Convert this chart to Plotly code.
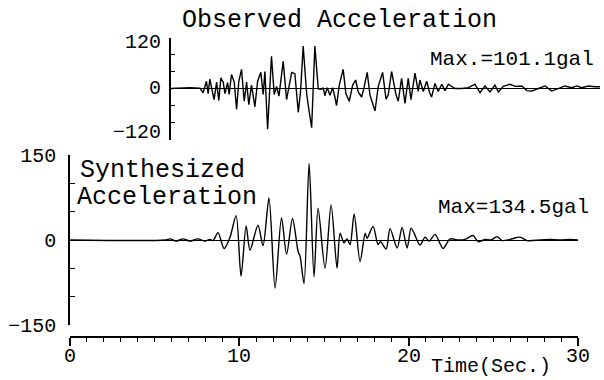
import plotly.graph_objects as go

# Observed acceleration (time s, gal)
obs_t = [5.97, 6.50, 7.09, 7.68, 7.87, 8.07, 8.17, 8.27, 8.41, 8.52, 8.67, 8.80, 8.92, 9.06, 9.16,
         9.32, 9.41, 9.55, 9.71, 9.85, 9.98, 10.14, 10.30, 10.44, 10.57, 10.73, 10.93, 11.09, 11.28,
         11.42, 11.52, 11.68, 11.91, 12.07, 12.21, 12.35, 12.60, 12.80, 13.10, 13.29, 13.49, 13.63,
         13.78, 13.98, 14.08, 14.28, 14.47, 14.67, 14.87, 14.96, 15.06, 15.20, 15.36, 15.52, 15.65,
         15.75, 15.91, 16.14, 16.30, 16.50, 16.70, 16.88, 17.03, 17.23, 17.37, 17.56, 17.72, 18.02,
         18.21, 18.47, 18.67, 18.80, 19.00, 19.26, 19.39, 19.59, 19.79, 19.98, 20.14, 20.38, 20.57,
         20.67, 20.87, 21.07, 21.26, 21.36, 21.56, 21.75, 21.96, 22.15, 22.35, 22.74, 23.14, 23.53,
         23.92, 24.22, 24.51, 24.81, 25.10, 25.30, 25.59, 25.99, 26.29, 26.68, 26.98, 27.27, 27.66,
         28.06, 28.45, 28.84, 29.24, 29.63, 29.93, 30.22, 30.61, 31.01, 31.30]
obs_a = [0, 1, 2, 1, -10, 17, -12, 22, -8, -26, 15, -28, 25, 15, -12,
         14, -14, 33, 15, -49, 17, 45, -30, 15, -38, 8, -43, 17, 38,
         -14, 40, -96, 76, -14, 5, -18, 64, -26, 38, 35, -56, -5,
         100, -10, -40, -92, 100, -1, -2, 2, -17, 2, -16, 2, -20,
         -40, 8, 45, -12, -30, 8, 20, -8, -20, 2, 38, -15, -53,
         5, 38, -25, -15, 40, -15, -30, 24, -35, 24, -26, 36, -7,
         20, -7, 17, -12, -20, 12, -7, 10, -5, 10, 0, 0, 2,
         10, -10, 6, -8, 8, -8, 5, 10, 5, 6, -5, -6, 0,
         6, -6, 0, 6, 2, 6, 2, 6, 4, 4]

# Synthesized acceleration (time s, gal)
syn_t = [0.0, 5.61, 5.91, 6.26, 6.68, 7.09, 7.56, 7.97, 8.27, 8.45, 8.74, 9.10, 9.45, 9.81,
         10.10, 10.40, 10.63, 11.10, 11.40, 11.75, 12.11, 12.49, 12.79, 13.14, 13.47, 13.59,
         13.82, 14.12, 14.41, 14.65, 15.06, 15.42, 15.77, 15.95, 16.18, 16.36, 16.54, 16.78,
         17.13, 17.43, 17.54, 17.90, 18.19, 18.34, 18.67, 18.90, 19.32, 19.61, 19.91, 20.14,
         20.32, 20.67, 20.97, 21.21, 21.56, 22.03, 22.45, 22.92, 23.33, 23.80, 24.10, 24.51,
         24.87, 25.22, 25.52, 25.99, 26.58, 26.99, 27.76, 28.35, 28.94, 29.53, 30.0]
syn_a = [0, 0, 2, -2, 2, -2, 2, -2, 1, -1, 13, -15, 5, 43,
         -64, 25, -18, 26, -10, 74, -85, 39, -25, 38, -20, -29,
         -77, 135, -65, 56, -50, 62, -50, 12, -5, 2, -8, 46,
         -38, 12, 3, 24, -8, -3, -16, 20, -14, 22, -14, 21,
         12, -9, 5, -2, 10, -15, 2, 0, 1, 8, -3, 1,
         0, 6, -1, 1, 5, -1, 0, 1, 0, 1, 0]

x_ticks = [0, 10, 20, 30]
x_labels = ["0", "10", "20", "30"]
top_yticks = [-120, -80, -40, 0, 40, 80, 120]
top_ylabels = ["\u2212120", "0", "120"]
bot_yticks = [-150, -100, -50, 0, 50, 100, 150]
bot_ylabels = ["\u2212150", "", "", "0", "", "", "150"]

W, H = 604, 380
def px(x):
    return x / W
def py(y):
    return 1 - y / H

FONT = "Liberation Mono"
fig = go.Figure()
fig.add_trace(go.Scatter(x=obs_t, y=obs_a, mode="lines", xaxis="x2", yaxis="y2",
                         line=dict(color="black", width=1.4), showlegend=False))
fig.add_trace(go.Scatter(x=syn_t, y=syn_a, mode="lines", xaxis="x", yaxis="y",
                         line=dict(color="black", width=1.4, shape="spline", smoothing=0.8),
                         showlegend=False))

fig.update_layout(
    template="none",
    width=W, height=H, margin=dict(l=0, r=0, t=0, b=0, pad=0, autoexpand=False),
    paper_bgcolor="white", plot_bgcolor="white",
    font=dict(family=FONT, color="black", size=20),
    xaxis=dict(domain=[px(70), px(578)], range=[0, 30], anchor="free", position=py(337),
               automargin=False,
               showline=True, linecolor="black", linewidth=1.5, showgrid=False, zeroline=False,
               tickvals=x_ticks, showticklabels=False, ticks="outside", ticklen=8, tickwidth=1.5,
               tickcolor="black",
               minor=dict(dtick=1, ticks="outside", ticklen=4, tickcolor="black", tickwidth=1, showgrid=False)),
    yaxis=dict(domain=[py(325), py(155)], range=[-150, 150], anchor="x", automargin=False,
               showline=True, linecolor="black", linewidth=1.5, showgrid=False,
               zeroline=True, zerolinecolor="black", zerolinewidth=1.3,
               tickvals=bot_yticks, ticktext=bot_ylabels, ticks="inside", ticklen=5,
               tickwidth=1.3, tickcolor="black", ticklabelstandoff=8,
               tickfont=dict(size=20, family=FONT)),
    xaxis2=dict(domain=[px(170.7), px(600)], range=[5.96, 31.3], anchor="y2", visible=False,
                automargin=False),
    yaxis2=dict(domain=[py(139.5), py(37.5)], range=[-120, 120], anchor="x2", automargin=False,
                showline=True, linecolor="black", linewidth=1.5, showgrid=False,
                zeroline=True, zerolinecolor="black", zerolinewidth=1.3,
                tickvals=top_yticks, showticklabels=False, ticks="inside", ticklen=5,
                tickwidth=1.3, tickcolor="black"),
)

def note(text, x, y, size, anchor="left"):
    fig.add_annotation(text=text, x=px(x), y=py(y), xref="paper", yref="paper",
                       xanchor=anchor, yanchor="middle", showarrow=False,
                       font=dict(family=FONT, size=size, color="black"))

# top-panel tick labels (placed as in the original scan)
for lab, yy in zip(top_ylabels, [132, 89, 42]):
    note(lab, 163, yy, 20, anchor="right")

# time-axis labels, on the data scale of the bottom x axis
for lab, tv in zip(x_labels, x_ticks):
    fig.add_annotation(text=lab, x=tv, xref="x", y=py(356), yref="paper",
                       xanchor="center", yanchor="middle", showarrow=False,
                       font=dict(family=FONT, size=20, color="black"))

note("Observed Acceleration", 180, 21, 25)
note("Max.=101.1gal", 428, 59, 21)
note("Synthesized", 78, 170, 25)
note("Acceleration", 75, 198, 25)
note("Max=134.5gal", 436, 207, 21)
note("Time(Sec.)", 429, 366, 20)

fig.write_html("out.html", config={"displayModeBar": False},
               post_script="document.body.style.margin='0';document.body.style.overflow='hidden';")
